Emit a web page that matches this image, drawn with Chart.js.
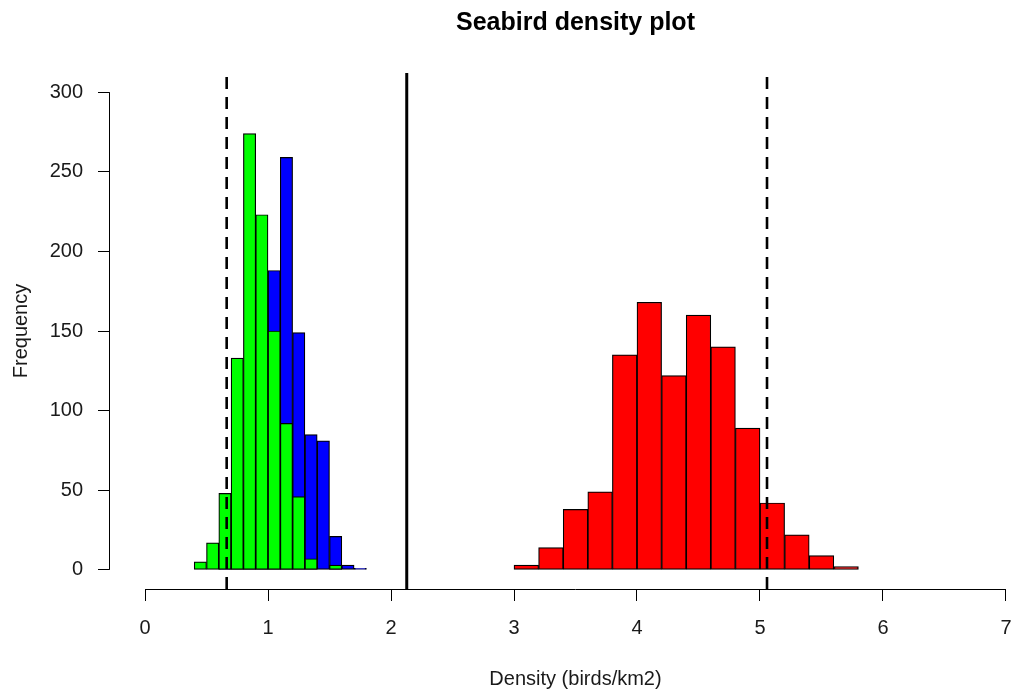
<!DOCTYPE html>
<html>
<head>
<meta charset="utf-8">
<script src="https://cdn.jsdelivr.net/npm/chart.js@4.4.1/dist/chart.umd.min.js"></script>
<style>
  body { margin: 0; background: #fff; }
  #wrap { width: 1012px; height: 691px; }
</style>
</head>
<body>
<div id="wrap"><canvas id="seabird" width="1012" height="691"></canvas></div>
<script>
// bin mids (width 0.1) for the two narrow histograms
const smallBins = [0.45, 0.55, 0.65, 0.75, 0.85, 0.95, 1.05, 1.15, 1.25, 1.35, 1.45, 1.55, 1.65, 1.75];
const blueCounts = [0, 0, 1, 12, 50, 150, 188, 259, 149, 85, 81, 21, 3, 1];
const greenCounts = [5, 17, 48, 133, 274, 223, 150, 92, 46, 7, 0, 3];
// bin mids (width 0.2) for the red one
const redBins = [3.1, 3.3, 3.5, 3.7, 3.9, 4.1, 4.3, 4.5, 4.7, 4.9, 5.1, 5.3, 5.5, 5.7];
const redCounts = [3, 14, 38, 49, 135, 168, 122, 160, 140, 89, 42, 22, 9, 2];

const dashedLines = [0.664, 5.057];
const solidLines = [2.128];

const xTicks = [0, 1, 2, 3, 4, 5, 6, 7];
const yTicks = [0, 50, 100, 150, 200, 250, 300];

const yLow = -12, yHigh = 312;
const fontFam = "'Liberation Sans', Arial, sans-serif";

const toPts = (mids, counts) => counts.map((c, i) => ({ x: mids[i], y: c }));
const vLine = v => [{ x: v, y: yLow }, { x: v, y: yHigh }];

const barBase = {
  type: 'bar',
  borderColor: '#000',
  borderWidth: 1.2,
  borderSkipped: false,
  barPercentage: 1,
  categoryPercentage: 1,
  grouped: false
};

const datasets = [
  Object.assign({}, barBase, { label: 'green', data: toPts(smallBins, greenCounts), backgroundColor: '#00ff00', xAxisID: 'x', order: 2 }),
  Object.assign({}, barBase, { label: 'blue', data: toPts(smallBins, blueCounts), backgroundColor: '#0000ff', xAxisID: 'x', order: 3 }),
  Object.assign({}, barBase, { label: 'red', data: toPts(redBins, redCounts), backgroundColor: '#ff0000', xAxisID: 'x2', order: 2 })
];
dashedLines.forEach(v => datasets.push({
  type: 'line', data: vLine(v), borderColor: '#000', borderWidth: 2.6,
  borderDash: [12, 8], pointRadius: 0, clip: false, xAxisID: 'x', order: 0
}));
solidLines.forEach(v => datasets.push({
  type: 'line', data: vLine(v), borderColor: '#000', borderWidth: 3,
  pointRadius: 0, clip: false, xAxisID: 'x', order: 0
}));

// R-style axis lines and titles
const rDecor = {
  id: 'rDecor',
  afterDraw(chart) {
    const { ctx, scales: { x, y }, chartArea } = chart;
    ctx.save();
    ctx.strokeStyle = '#000';
    ctx.lineWidth = 1;
    ctx.beginPath();
    const ax = Math.round(chartArea.left) + 0.5;
    ctx.moveTo(ax, y.getPixelForValue(yTicks[0]));
    ctx.lineTo(ax, y.getPixelForValue(yTicks[yTicks.length - 1]));
    const ay = Math.round(chartArea.bottom) + 0.5;
    ctx.moveTo(x.getPixelForValue(xTicks[0]), ay);
    ctx.lineTo(x.getPixelForValue(xTicks[xTicks.length - 1]), ay);
    ctx.stroke();

    const midX = x.getPixelForValue(3.5);
    ctx.fillStyle = '#000';
    ctx.textAlign = 'center';
    ctx.textBaseline = 'middle';
    ctx.font = 'bold 25px ' + fontFam;
    ctx.fillText('Seabird density plot', midX, 23);
    ctx.fillStyle = '#1a1a1a';
    ctx.font = '20px ' + fontFam;
    ctx.fillText('Density (birds/km2)', midX, 679);
    ctx.translate(21, y.getPixelForValue(150));
    ctx.rotate(-Math.PI / 2);
    ctx.fillText('Frequency', 0, 0);
    ctx.restore();
  }
};

const tickFont = { family: fontFam, size: 20 };

new Chart(document.getElementById('seabird').getContext('2d'), {
  type: 'bar',
  data: { datasets: datasets },
  options: {
    responsive: false,
    animation: false,
    layout: { padding: { top: 73, left: 0, right: 0, bottom: 0 } },
    plugins: { legend: { display: false }, tooltip: { enabled: false }, title: { display: false } },
    scales: {
      x: {
        type: 'linear',
        offset: false,
        min: -0.2927, max: 7.0488,
        afterBuildTicks: s => { s.ticks = xTicks.map(v => ({ value: v })); },
        afterFit: s => { s.height = 102; s.paddingLeft = 0; s.paddingRight = 0; },
        border: { display: false },
        grid: { offset: false, drawOnChartArea: false, drawTicks: true, tickLength: 12, tickColor: '#000', tickWidth: 1 },
        ticks: { color: '#1a1a1a', font: Object.assign({ lineHeight: 2.4 }, tickFont), padding: 3, maxRotation: 0, autoSkip: false }
      },
      x2: {
        type: 'linear',
        display: false,
        offset: false,
        grid: { offset: false },
        min: -0.2927, max: 7.0488,
        afterBuildTicks: s => { s.ticks = xTicks.map(v => ({ value: v })); }
      },
      y: {
        min: yLow, max: yHigh,
        afterBuildTicks: s => { s.ticks = yTicks.map(v => ({ value: v })); },
        afterFit: s => { s.width = 109; s.paddingTop = 0; s.paddingBottom = 0; },
        border: { display: false },
        grid: { drawOnChartArea: false, drawTicks: true, tickLength: 11, tickColor: '#000', tickWidth: 1 },
        ticks: { color: '#1a1a1a', font: tickFont, padding: 15, autoSkip: false }
      }
    }
  },
  plugins: [rDecor]
});
</script>
</body>
</html>
